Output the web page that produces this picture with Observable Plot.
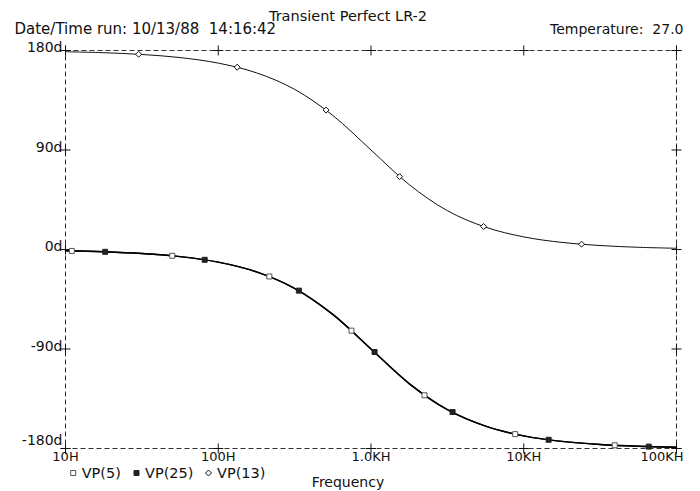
<!DOCTYPE html>
<html><head><meta charset="utf-8">
<script src="https://cdn.jsdelivr.net/npm/d3@7"></script>
<script src="https://cdn.jsdelivr.net/npm/@observablehq/plot@0.6"></script>
<style>
html,body{margin:0;padding:0;background:#fff;}
#chart svg text{font-family:"DejaVu Sans",sans-serif;font-weight:normal;fill:#111;}
</style></head><body><div id="chart"></div>
<script>
// ---- data ----
const freq = [10, 17.8, 31.6, 56.2, 100, 178, 316, 562, 1000, 1778, 3162, 5623, 10000, 17783, 31623, 56234, 100000];
const vp13 = [178.9, 178.0, 176.4, 173.6, 168.6, 159.8, 144.9, 121.3, 90.0, 58.7, 35.1, 20.2, 11.4, 6.4, 3.6, 2.0, 1.1];
const vp5  = [-1.1, -2.0, -3.6, -6.4, -11.4, -20.2, -35.1, -58.7, -90.0, -121.3, -144.9, -159.8, -168.6, -173.6, -176.4, -178.0, -178.9];
const vp25 = [-1.1, -2.0, -3.6, -6.4, -11.4, -20.2, -35.1, -58.7, -90.0, -121.3, -144.9, -159.8, -168.6, -173.6, -176.4, -178.0, -178.9];

const vp5MarkFreq  = [11, 50, 216, 745, 2240, 8790, 39400];
const vp5MarkVal   = [-1.3, -5.7, -24.4, -73.4, -131.9, -167.0, -177.1];
const vp25MarkFreq = [18.2, 81.5, 337, 1055, 3420, 14550, 65800];
const vp25MarkVal  = [-2.1, -9.3, -37.2, -92.7, -147.0, -172.1, -178.3];
const vp13MarkFreq = [30.1, 133, 508, 1538, 5460, 23900];
const vp13MarkVal  = [176.6, 164.9, 126.1, 65.9, 20.8, 4.8];

const xTicks = [10, 100, 1000, 10000, 100000];
const xTickLabels = ["10H", "100H", "1.0KH", "10KH", "100KH"];
const yTicks = [-180, -90, 0, 90, 180];
const yTickLabels = ["-180d", "-90d", "0d", "90d", "180d"];
const seriesNames = ["VP(5)", "VP(25)", "VP(13)"];
const titleText = "Transient Perfect LR-2";
const runInfo = "Date/Time run: 10/13/88  14:16:42";
const tempInfo = "Temperature:  27.0";
const xLabel = "Frequency";

// ---- build tables ----
const rows = (vals) => freq.map((f, i) => ({f, v: vals[i]}));
const marks = (fs, vs) => fs.map((f, i) => ({f, v: vs[i]}));
const xDom = [xTicks[0], xTicks[xTicks.length - 1]];
const yDom = [yTicks[0], yTicks[yTicks.length - 1]];
const crossTB = xTicks.flatMap(f => yDom.map(v => ({f, v})));
const crossLR = yTicks.flatMap(v => xDom.map(f => ({f, v})));

// ---- symbols ----
const openSquare = {draw(ctx){ctx.moveTo(-2.5,-2.5);ctx.lineTo(2.5,-2.5);ctx.lineTo(2.5,2.5);ctx.lineTo(-2.5,2.5);ctx.closePath();}};
const diamond = {draw(ctx){ctx.moveTo(0,-3);ctx.lineTo(3,0);ctx.lineTo(0,3);ctx.lineTo(-3,0);ctx.closePath();}};
const cross = {draw(ctx){ctx.moveTo(-5,0);ctx.lineTo(5,0);ctx.moveTo(0,-5);ctx.lineTo(0,5);}};

const legendSym = [
  {symbol: openSquare, stroke: "#555", fill: "white"},
  {symbol: openSquare, stroke: "#222", fill: "#222"},
  {symbol: diamond, stroke: "#111", fill: "white"}
];
const legendDx = [7.7, 71, 143];

const legendMarks = seriesNames.flatMap((name, i) => [
  Plot.dot([name], {frameAnchor: "bottom-left", dx: legendDx[i], dy: 24.5, ...legendSym[i], strokeWidth: 1}),
  Plot.text([name], {frameAnchor: "bottom-left", dx: legendDx[i] + 8.5, dy: 29, textAnchor: "start", lineAnchor: "bottom", fontSize: 14.5})
]);

const yTopTicks = yTicks.slice(1);
const chart = Plot.plot({
  width: 700,
  height: 491,
  marginLeft: 65,
  marginRight: 24,
  marginTop: 50,
  marginBottom: 43,
  x: {type: "log", domain: xDom, axis: null},
  y: {domain: yDom, axis: null},
  style: {fontFamily: "DejaVu Sans", fontSize: "14px", background: "white", overflow: "visible"},
  marks: [
    Plot.frame({stroke: "#333", strokeDasharray: "5,3", strokeWidth: 1}),
    Plot.dot(crossTB, {x: "f", y: "v", symbol: cross, stroke: "#111", fill: "none", strokeWidth: 1}),
    Plot.dot(crossLR, {x: "f", y: "v", symbol: cross, stroke: "#111", fill: "none", strokeWidth: 1}),
    Plot.line(rows(vp13), {x: "f", y: "v", curve: "catmull-rom", stroke: "#111", strokeWidth: 1}),
    Plot.line(rows(vp5), {x: "f", y: "v", curve: "catmull-rom", stroke: "#000", strokeWidth: 1.4}),
    Plot.line(rows(vp25), {x: "f", y: "v", curve: "catmull-rom", stroke: "#000", strokeWidth: 1.4}),
    Plot.dot(marks(vp5MarkFreq, vp5MarkVal), {x: "f", y: "v", ...legendSym[0], strokeWidth: 1}),
    Plot.dot(marks(vp25MarkFreq, vp25MarkVal), {x: "f", y: "v", ...legendSym[1], strokeWidth: 1}),
    Plot.dot(marks(vp13MarkFreq, vp13MarkVal), {x: "f", y: "v", ...legendSym[2], strokeWidth: 1}),
    // y tick labels
    Plot.text(yTopTicks, {y: d => d, text: (d, i) => yTickLabels[i + 1], frameAnchor: "left", textAnchor: "end", lineAnchor: "bottom", dx: -3, dy: 1.5, fontSize: 14}),
    Plot.text(yTicks.slice(0, 1), {y: d => d, text: () => yTickLabels[0], frameAnchor: "left", textAnchor: "end", lineAnchor: "bottom", dx: -3, dy: -3.5, fontSize: 14}),
    // x tick labels
    Plot.text(xTicks.slice(0, -1), {x: d => d, text: (d, i) => xTickLabels[i], frameAnchor: "bottom", textAnchor: "middle", lineAnchor: "top", dy: 3, fontSize: 13}),
    Plot.text(xTicks.slice(-1), {x: d => d, text: () => xTickLabels[xTickLabels.length - 1], frameAnchor: "bottom", textAnchor: "end", lineAnchor: "top", dx: 7, dy: 3, fontSize: 13}),
    // header texts
    Plot.text([titleText], {frameAnchor: "top", dx: -23, dy: -30, lineAnchor: "bottom", fontSize: 14.5}),
    Plot.text([runInfo], {frameAnchor: "top-left", textAnchor: "start", dx: -51, dy: -16.5, lineAnchor: "bottom", fontSize: 15}),
    Plot.text([tempInfo], {frameAnchor: "top-right", textAnchor: "end", dx: 7, dy: -16.5, lineAnchor: "bottom", fontSize: 14}),
    Plot.text([xLabel], {frameAnchor: "bottom", dx: -23, dy: 38, lineAnchor: "bottom", fontSize: 14}),
    ...legendMarks
  ]
});
document.getElementById("chart").append(chart);
</script></body></html>
